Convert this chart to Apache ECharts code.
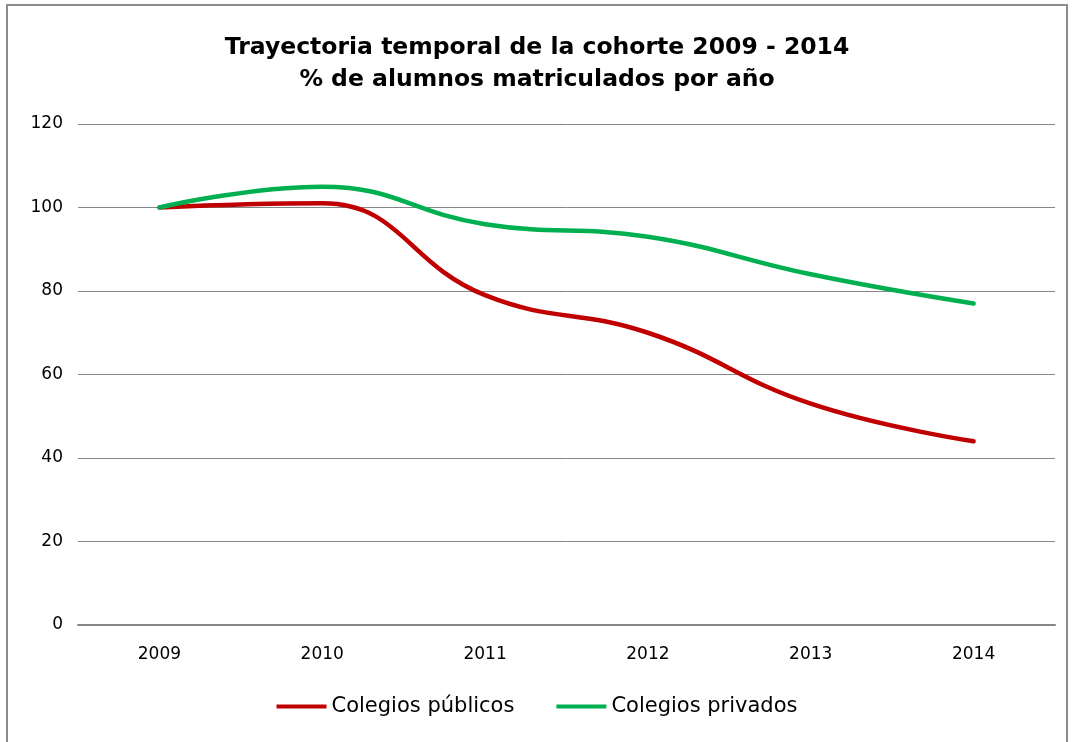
<!DOCTYPE html>
<html>
<head>
<meta charset="utf-8">
<script src="https://cdn.jsdelivr.net/npm/echarts@6/dist/echarts.min.js"></script>
<style>
  html, body { margin: 0; padding: 0; background: #fff; }
  #main { width: 1074px; height: 742px; }
</style>
</head>
<body>
<div id="main"></div>
<script>
// datos
var years = ['2009', '2010', '2011', '2012', '2013', '2014'];
var publicos = [100, 101, 79, 70, 53, 44];
var privados = [100, 105, 96, 93, 84, 77];
var yTicks = [0, 20, 40, 60, 80, 100, 120];

var myChart = echarts.init(document.getElementById('main'));

var option = {
    backgroundColor: '#fff',
    title: {
        text: 'Trayectoria temporal de la cohorte 2009 - 2014\n% de alumnos matriculados por año',
        left: 'center',
        top: 27,
        textStyle: {
            fontFamily: 'DejaVu Sans',
            fontWeight: 'bold',
            fontSize: 23.5,
            lineHeight: 32,
            color: '#000'
        }
    },
    graphic: [{
        type: 'rect',
        shape: { x: 7, y: 5, width: 1060, height: 760 },
        style: { fill: 'none', stroke: '#8c8c8c', lineWidth: 2 },
        silent: true
    }],
    legend: {
        bottom: 20,
        left: 'center',
        itemWidth: 50,
        itemHeight: 4,
        itemGap: 42,
        icon: 'rect',
        textStyle: { fontFamily: 'DejaVu Sans', fontSize: 21, color: '#000', padding: [0, 0, 0, 0] },
        data: ['Colegios públicos', 'Colegios privados']
    },
    grid: {
        left: 78,
        right: 19,
        top: 124,
        bottom: 117
    },
    xAxis: {
        type: 'category',
        boundaryGap: true,
        data: years,
        axisLine: { lineStyle: { color: '#868686', width: 2 } },
        axisTick: { show: false },
        axisLabel: { fontFamily: 'DejaVu Sans', fontSize: 17, color: '#000', margin: 21 }
    },
    yAxis: {
        type: 'value',
        min: yTicks[0],
        max: yTicks[yTicks.length - 1],
        interval: 20,
        axisLine: { show: false },
        axisTick: { show: false },
        axisLabel: { fontFamily: 'DejaVu Sans', fontSize: 17, color: '#000', margin: 15 },
        splitLine: { lineStyle: { color: '#868686', width: 1 } }
    },
    series: [
        {
            name: 'Colegios públicos',
            type: 'line',
            smooth: 0.45,
            symbol: 'none',
            data: publicos,
            itemStyle: { color: '#C00000' },
            lineStyle: { color: '#C00000', width: 4.5, cap: 'round' }
        },
        {
            name: 'Colegios privados',
            type: 'line',
            smooth: 0.45,
            symbol: 'none',
            data: privados,
            itemStyle: { color: '#00B050' },
            lineStyle: { color: '#00B050', width: 4.5, cap: 'round' }
        }
    ]
};

myChart.setOption(option);
</script>
</body>
</html>
